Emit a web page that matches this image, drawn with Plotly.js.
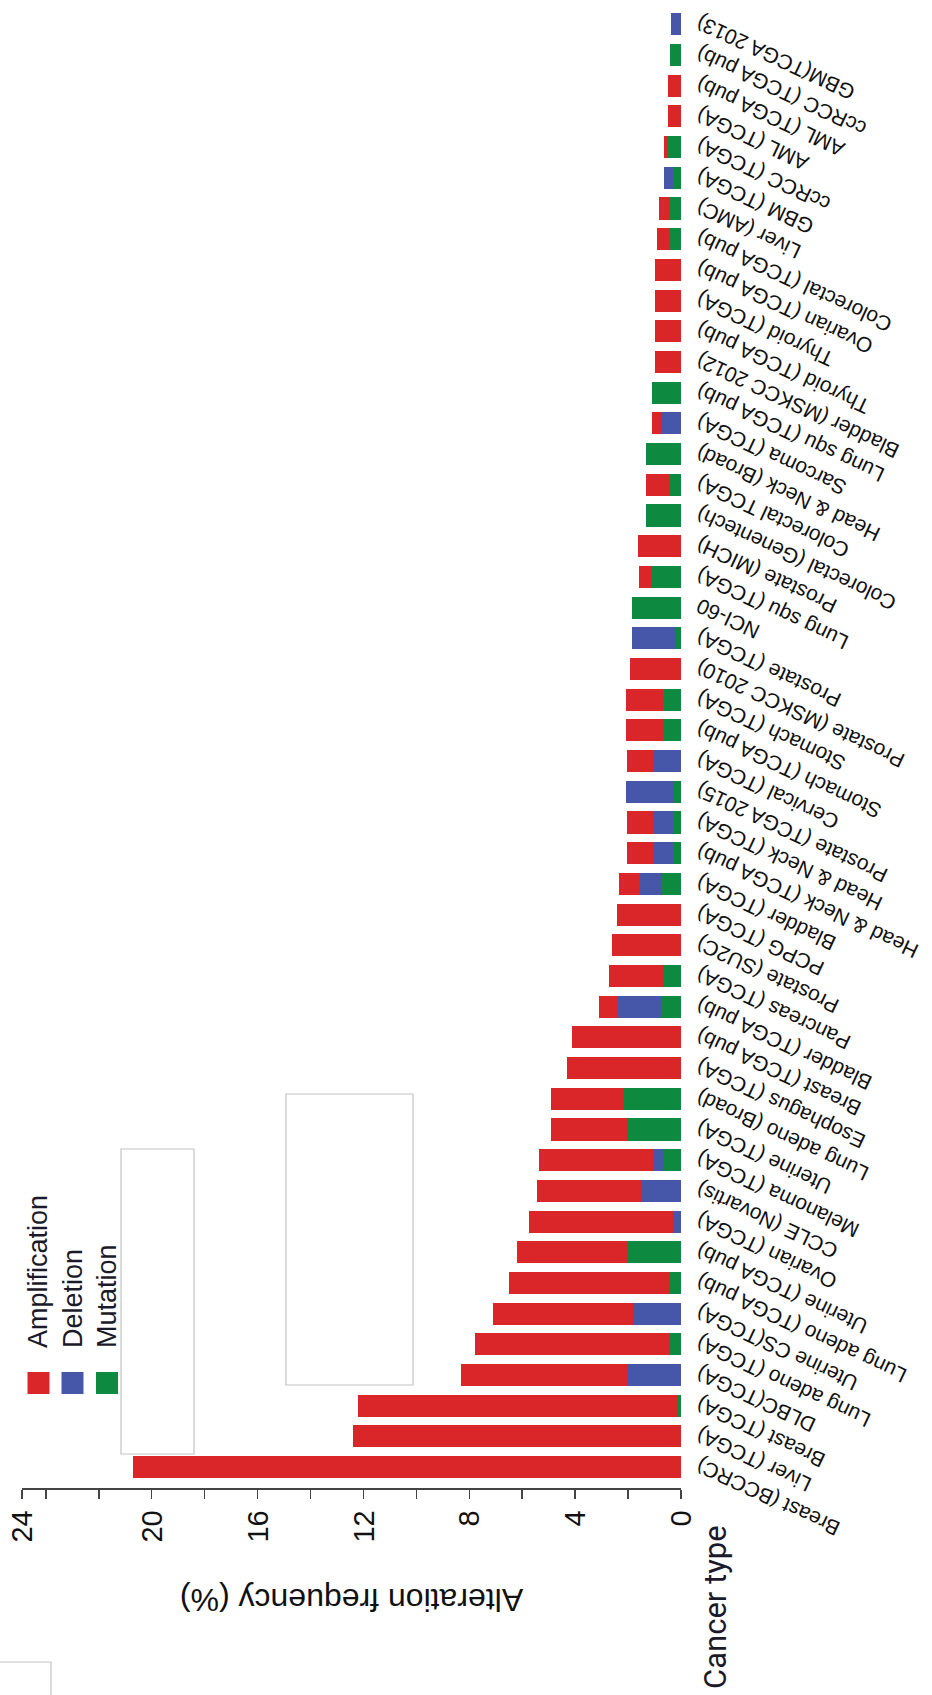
<!DOCTYPE html>
<html><head><meta charset="utf-8">
<script src="https://cdn.plot.ly/plotly-3.0.1.min.js"></script>
<style>
html,body{margin:0;padding:0;background:#fff;overflow:hidden;width:932px;height:1695px;}
#rot{position:absolute;left:0;top:0;width:1695px;height:932px;transform-origin:0 0;transform:translate(0px,1695px) rotate(-90deg);}
#chart{width:1695px;height:932px;}
</style></head><body>
<div id="rot"><div id="chart"></div></div>
<script>
// Categories, ordered along the category axis (first = Breast (BCCRC))
const cancerTypes = [
  'Breast (BCCRC)','Liver (TCGA)','Breast (TCGA)','DLBC(TCGA)','Lung adeno (TCGA)',
  'Uterine CS(TCGA)','Lung adeno (TCGA pub)','Uterine (TCGA pub)','Ovarian (TCGA)','CCLE (Novartis)',
  'Melanoma (TCGA)','Uterine (TCGA)','Lung adeno (Broad)','Esophagus (TCGA)','Breast (TCGA pub)',
  'Bladder (TCGA pub)','Pancreas (TCGA)','Prostate (SU2C)','PCPG (TCGA)','Bladder (TCGA)',
  'Head & Neck (TCGA pub)','Head & Neck (TCGA)','Prostate (TCGA 2015)','Cervical (TCGA)','Stomach (TCGA pub)',
  'Stomach (TCGA)','Prostate (MSKCC 2010)','Prostate (TCGA)','NCI-60','Lung squ (TCGA)',
  'Prostate (MICH)','Colorectal (Genentech)','Colorectal TCGA)','Head & Neck (Broad)','Sarcoma (TCGA)',
  'Lung squ (TCGA pub)','Bladder (MSKCC 2012)','Thyroid (TCGA pub)','Thyroid (TCGA)','Ovarian (TCGA pub)',
  'Colorectal (TCGA pub)','Liver (AMC)','GBM (TCGA)','ccRCC (TCGA)','AML (TCGA)',
  'AML (TCGA pub)','ccRCC (TCGA pub)','GBM(TCGA 2013)'
];
const amplification = [20.7,12.4,12.1,6.26,7.35,5.32,6.08,4.15,5.43,3.93,4.33,2.93,2.75,4.3,4.1,0.73,2.04,2.6,2.43,0.79,1.02,1.02,0,1.02,1.38,1.38,1.92,0,0,0.48,1.63,0,0.92,0,0.37,0,1.0,1.0,1.0,1.0,0.45,0.41,0,0.15,0.48,0.48,0,0];
const deletion = [0,0,0,2.04,0,1.8,0,0,0.32,1.5,0.35,0,0,0,0,1.63,0,0,0,0.8,0.7,0.7,1.82,1.03,0,0,0,1.66,0,0,0,0,0,0,0.74,0,0,0,0,0,0,0,0.34,0,0,0,0,0.36];
const mutation = [0,0,0.1,0,0.45,0,0.42,2.05,0,0,0.67,2.0,2.15,0,0,0.74,0.68,0,0,0.74,0.32,0.32,0.27,0,0.68,0.68,0,0.2,1.86,1.12,0,1.34,0.42,1.31,0,1.08,0,0,0,0,0.45,0.42,0.32,0.48,0,0,0.42,0];
const tickValues = [0,4,8,12,16,20,24.9];
const tickLabels = ['0','4','8','12','16','20','24'];
const minorTicks = [2,6,10,14,18,22,24];
const seriesNames = ['Amplification','Deletion','Mutation'];

const colors = {Amplification:'#da2629', Deletion:'#4656a8', Mutation:'#0e8a40'};
const W = 1695, H = 932;
const M = {l:207, r:9, t:22, b:251};
const PW = W - M.l - M.r, PH = H - M.t - M.b;
const px = x => (x - M.l) / PW;
const py = y => 1 - (y - M.t) / PH;

const traces = [
  {name:'Mutation', values:mutation},
  {name:'Deletion', values:deletion},
  {name:'Amplification', values:amplification}
].map(s => ({
  type:'bar', name:s.name, x:cancerTypes, y:s.values,
  marker:{color:colors[s.name], line:{width:0}}, hoverinfo:'x+y+name'
}));

const shapes = [];
const annotations = [];
const legendRows = [38.5, 72.5, 107];
seriesNames.forEach((n,i) => {
  const yc = legendRows[i];
  shapes.push({type:'rect', xref:'paper', yref:'paper', x0:px(301), x1:px(323), y0:py(yc-11), y1:py(yc+11),
    fillcolor:colors[n], line:{width:0}, layer:'above'});
  annotations.push({xref:'paper', yref:'paper', x:px(345), y:py(yc), xanchor:'left', yanchor:'middle',
    text:n, showarrow:false, font:{size:27, color:'#1a1a2a'}});
});
// blank boxes
[[241,546,121,194],[310,601,286,413],[-3,33,-3,51]].forEach(b => {
  shapes.push({type:'rect', xref:'paper', yref:'paper', x0:px(b[0]), x1:px(b[1]), y0:py(b[3]), y1:py(b[2]),
    fillcolor:'#ffffff', line:{color:'#c4c4c4', width:1.2}, layer:'above'});
});
annotations.push({xref:'paper', yref:'paper', x:px(88), y:py(715), xanchor:'center', yanchor:'middle',
  text:'Cancer type', showarrow:false, font:{size:31, color:'#1a1a2a', family:'Liberation Sans Narrow, Roboto, Liberation Sans, Arial, sans-serif'}});

const layout = {
  width:W, height:H, margin:M,
  paper_bgcolor:'#ffffff', plot_bgcolor:'#ffffff',
  barmode:'stack', bargap:0.28, showlegend:false,
  font:{family:'Liberation Sans, Arial, sans-serif', color:'#111'},
  xaxis:{type:'category', range:[-0.68, 47.5], tickangle:-65, tickfont:{size:21, color:'#111'},
    showline:false, ticks:'', showgrid:false, zeroline:false, ticklabelstandoff:4, automargin:false, fixedrange:true},
  yaxis:{range:[0,24.9], tickmode:'array', tickvals:tickValues, ticktext:tickLabels,
    ticks:'outside', ticklen:9, tickwidth:1.5, tickcolor:'#444',
    showline:true, linecolor:'#444', linewidth:1.5, showgrid:false, zeroline:false,
    minor:{tickmode:'array', tickvals:minorTicks, ticks:'outside', ticklen:9, tickwidth:1.5, tickcolor:'#444', showgrid:false},
    tickfont:{size:29, color:'#111'}, ticklabelstandoff:6,
    title:{text:'Alteration frequency (%)', font:{size:32, color:'#111'}, standoff:36},
    automargin:false, fixedrange:true},
  shapes:shapes, annotations:annotations
};
Plotly.newPlot('chart', traces, layout, {displayModeBar:false, staticPlot:true});
</script>
</body></html>
